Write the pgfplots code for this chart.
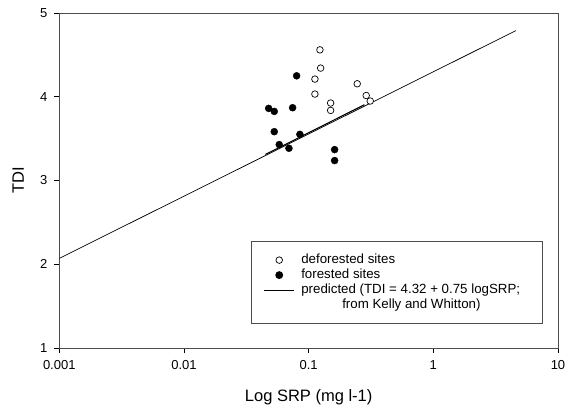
\documentclass[border=0pt]{standalone}
\usepackage{pgfplots}
\pgfplotsset{compat=1.18}
\usepackage{fontspec}
\setmainfont{Liberation Sans}
\begin{document}
\begin{tikzpicture}
\begin{axis}[
  scale only axis, width=498.7pt, height=335pt,
  xmode=log, xmin=0.001, xmax=10, ymin=1, ymax=5,
  xtick={0.001,0.01,0.1,1,10}, xticklabels={0.001,0.01,0.1,1,10},
  ytick={1,2,3,4,5},
  xminorticks=false,
  tick align=outside, tick pos=left, major tick length=5pt,
  axis line style={black!70, line width=0.8pt},
  every tick/.style={black, line width=0.8pt},
  ticklabel style={font=\fontsize{13}{15}\selectfont},
  xticklabel style={yshift=-4pt},
  yticklabel style={xshift=-3.5pt},
  /pgf/number format/assume math mode=true,
  xlabel={Log SRP (mg l-1)}, ylabel={TDI},
  label style={font=\fontsize{16.5}{19}\selectfont},
  xlabel style={at={(rel axis cs:0.5,-0.1603)}, anchor=base},
  ylabel style={at={(rel axis cs:-0.0708,0.5)}, anchor=base},
  legend cell align=left,
  legend image code/.code={\draw[mark repeat=2,mark phase=2,#1] plot coordinates {(0pt,0pt) (15pt,0pt) (30pt,0pt)};},
  legend style={at={(0.970,0.0716)}, anchor=south east,
    draw=black!70, line width=0.8pt, font=\fontsize{13.3}{15}\selectfont,
    nodes={inner sep=0pt, text height=10.5pt, text depth=4.5pt},
    inner xsep=12pt, inner ysep=11pt, row sep=0pt, column sep=6.7pt},
]
\addplot[only marks, mark=*, mark size=3.3pt, mark options={fill=white, draw=black, line width=0.7pt}] coordinates {
(0.1232,4.560) (0.1248,4.342) (0.1123,4.211) (0.1123,4.032) (0.1501,3.925)
(0.1501,3.837) (0.2453,4.155) (0.2896,4.015) (0.3119,3.949)
};
\addlegendentry{deforested sites}
\addplot[only marks, mark=*, mark size=3.5pt, mark options={fill=black, draw=black}] coordinates {
(0.0801,4.250) (0.0478,3.861) (0.0530,3.825) (0.0744,3.869) (0.0530,3.583)
(0.0851,3.551) (0.0581,3.429) (0.0695,3.385) (0.1616,3.369) (0.1616,3.238)
};
\addlegendentry{forested sites}
\addplot[black, line width=0.7pt, no marks] coordinates {(0.001,2.07) (4.6,4.79)};
\addlegendentry{predicted (TDI = 4.32 + 0.75 logSRP;\hspace*{10.5pt}}
\addlegendimage{empty legend}
\addlegendentry{\hspace*{41pt}from Kelly and Whitton)}
\addplot[black, line width=1.1pt, no marks, forget plot] coordinates {(0.045,3.310) (0.28,3.905)};
\coordinate (bbll) at (rel axis cs:-0.1189,-0.1791);
\coordinate (bbur) at (rel axis cs:1.0301,1.0388);
\end{axis}
\path (bbll) rectangle (bbur);
\end{tikzpicture}
\end{document}
